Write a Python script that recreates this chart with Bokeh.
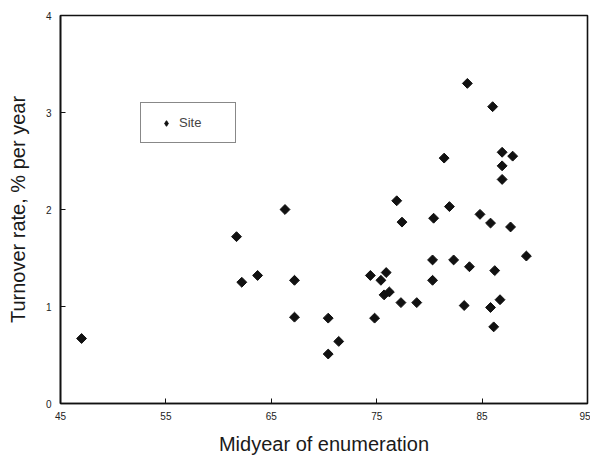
import math
from bokeh.plotting import figure
from bokeh.models import Range1d, FixedTicker, Legend, LegendItem, ColumnDataSource
from bokeh.embed import file_html
from bokeh.resources import INLINE

midyear = [47.0, 61.7, 62.2, 63.7, 66.3, 67.2, 67.2, 70.4, 70.4, 71.4,
           74.4, 74.8, 75.4, 75.9, 75.7, 76.2, 76.9, 77.4, 77.3, 78.8,
           80.4, 80.3, 80.3, 81.4, 81.9, 82.3, 83.6, 83.8, 83.3, 84.8,
           86.0, 85.8, 85.8, 86.2, 86.1, 86.7, 86.9, 86.9, 86.9, 87.9,
           87.7, 89.2]
turnover = [0.67, 1.72, 1.25, 1.32, 2.00, 1.27, 0.89, 0.88, 0.51, 0.64,
            1.32, 0.88, 1.27, 1.35, 1.12, 1.15, 2.09, 1.87, 1.04, 1.04,
            1.91, 1.48, 1.27, 2.53, 2.03, 1.48, 3.30, 1.41, 1.01, 1.95,
            3.06, 1.86, 0.99, 1.37, 0.79, 1.07, 2.59, 2.45, 2.31, 2.55,
            1.82, 1.52]
x_ticks = [45, 55, 65, 75, 85, 95]
y_ticks = [0, 1, 2, 3, 4]

src = ColumnDataSource(data=dict(x=midyear, y=turnover))

p = figure(width=590, height=460, output_backend="svg", toolbar_location=None,
           x_range=Range1d(45, 95), y_range=Range1d(0, 4),
           min_border_left=60, min_border_right=3, min_border_top=15, min_border_bottom=57)
p.background_fill_color = "white"
p.border_fill_color = "white"
p.outline_line_color = "#111111"
p.outline_line_width = 1.6
p.grid.visible = False

r = p.scatter("x", "y", source=src, marker="square", angle=math.pi / 4, size=7,
              fill_color="#111111", line_color="#111111")
# legend swatch: an upright diamond hidden inside the first site's marker
key = p.scatter(x=midyear[:1], y=turnover[:1], marker="diamond", size=7,
                fill_color="#111111", line_color="#111111")

for ax in (p.xaxis[0], p.yaxis[0]):
    ax.major_tick_in = 5
    ax.major_tick_out = 0
    ax.minor_tick_line_color = None
    ax.axis_line_color = "#111111"
    ax.axis_line_width = 1.6
    ax.major_tick_line_color = "#111111"
    ax.major_label_text_font = "Liberation Sans"
    ax.major_label_text_font_size = "10px"
    ax.major_label_text_color = "#222222"
    ax.axis_label_text_font = "Liberation Sans"
    ax.axis_label_text_font_size = "20px"
    ax.axis_label_text_font_style = "normal"
    ax.axis_label_text_color = "#1a1a1a"

p.xaxis.ticker = FixedTicker(ticks=x_ticks)
p.yaxis.ticker = FixedTicker(ticks=y_ticks)
p.xaxis.axis_label = "Midyear of enumeration"
p.yaxis.axis_label = "Turnover rate, % per year"
p.xaxis.major_label_standoff = 8
p.yaxis.major_label_standoff = 9
p.xaxis.axis_label_standoff = 10
p.yaxis.axis_label_standoff = 14

legend = Legend(items=[LegendItem(label="Site", renderers=[key])],
                location=(80, 260), padding=12, glyph_width=26, glyph_height=14,
                label_standoff=0, label_width=44,
                label_text_font="Liberation Sans", label_text_font_size="13px",
                border_line_color="#111111", border_line_width=1.6,
                background_fill_color="white", background_fill_alpha=1.0,
                margin=0)
p.add_layout(legend, "center")

open("out.html", "w").write(file_html(p, INLINE))
